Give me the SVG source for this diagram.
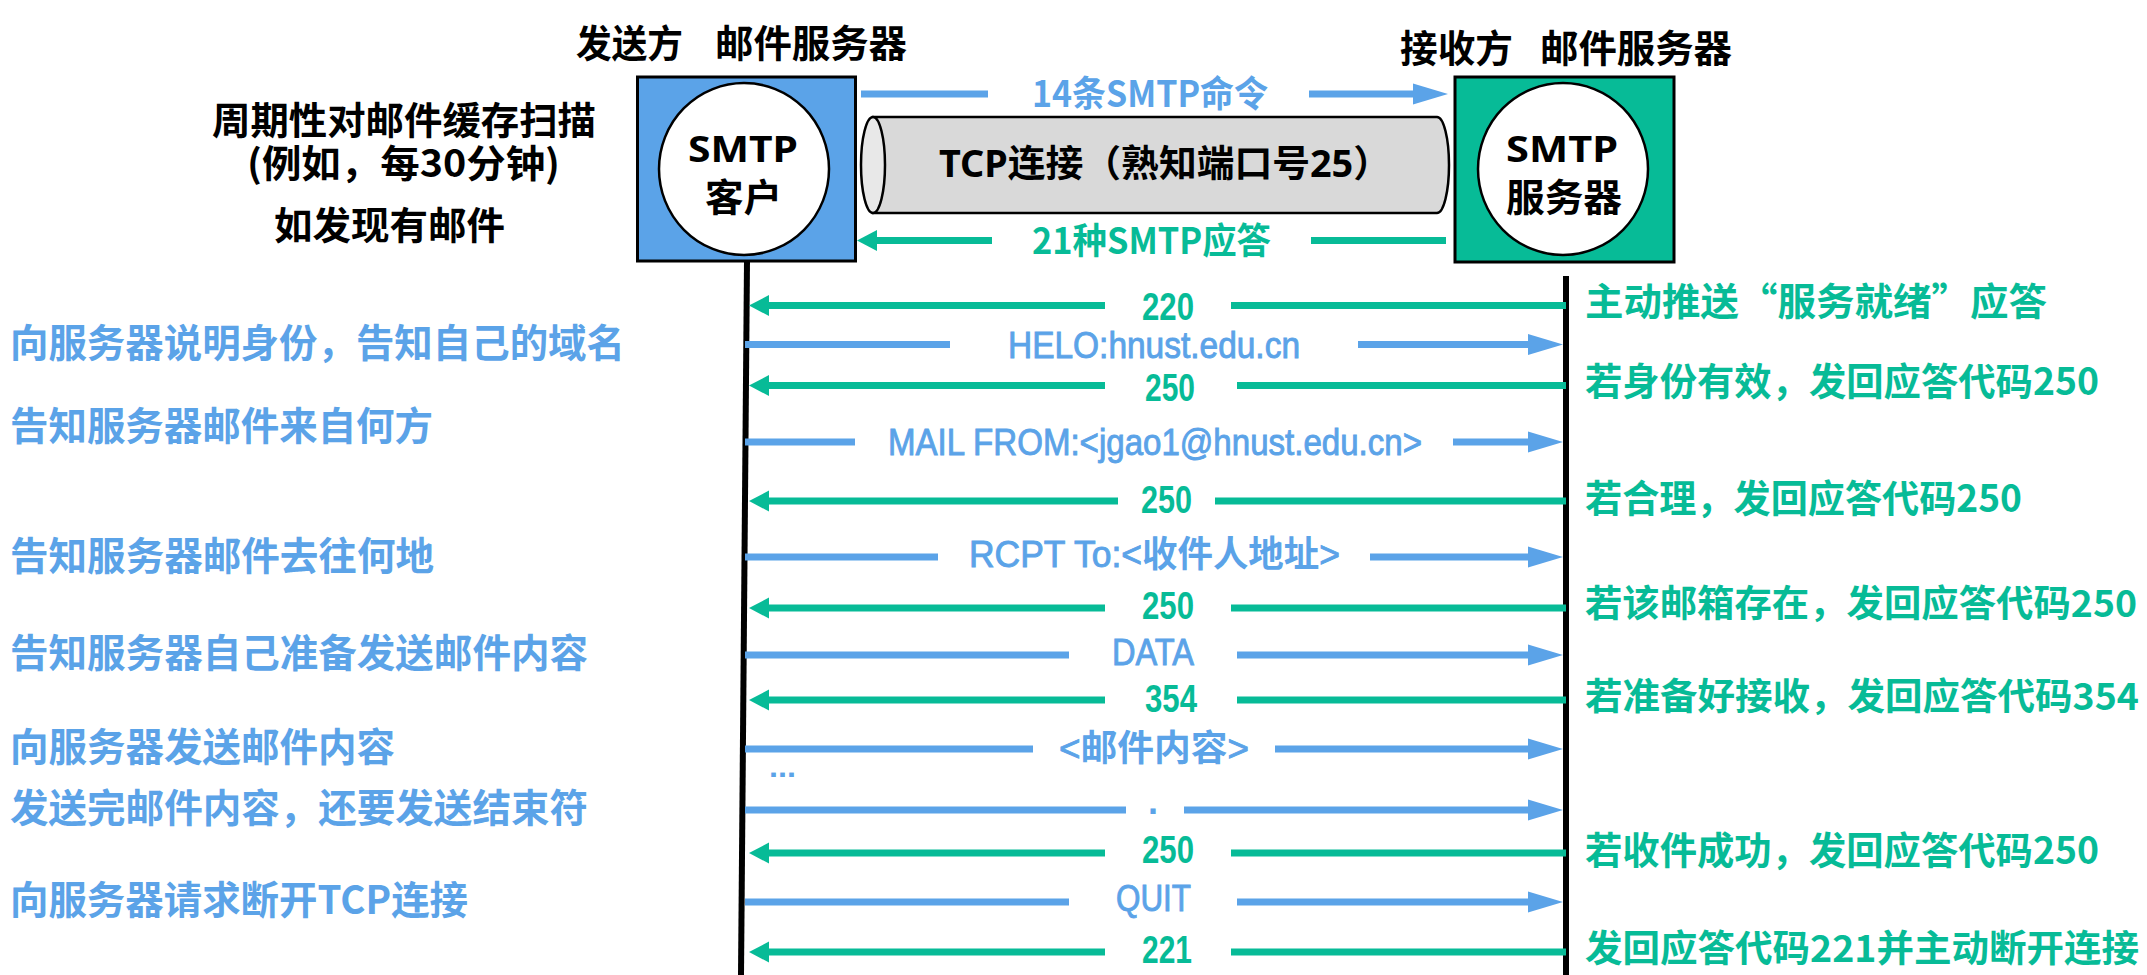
<svg xmlns="http://www.w3.org/2000/svg" width="2147" height="975" viewBox="0 0 2147 975">
<style>
.cjk{font-family:"Noto Sans CJK SC","Liberation Sans",sans-serif;font-weight:700}
.lat{font-family:"Liberation Sans","Noto Sans CJK SC",sans-serif}
.box{font-family:"Noto Sans","Noto Sans CJK SC",sans-serif;font-weight:700}
.bl{fill:#5BA3E8}
.gr{fill:#07BB97}
.bk{fill:#000}
.blt{fill:#5BA3E8;stroke:#5BA3E8;stroke-width:0.9}
.lb{stroke:#5BA3E8;stroke-width:7;fill:none}
.lg{stroke:#07BB97;stroke-width:7;fill:none}
.life{stroke:#000;stroke-width:6}
</style>
<defs>
<marker id="hb" markerUnits="userSpaceOnUse" markerWidth="36" markerHeight="22" viewBox="0 0 36 22" refX="1" refY="11" orient="auto"><path d="M0,0.5 L35,11 L0,21.5 z" fill="#5BA3E8"/></marker>
<marker id="hg" markerUnits="userSpaceOnUse" markerWidth="21" markerHeight="22" viewBox="0 0 21 22" refX="1" refY="11" orient="auto"><path d="M0,0.5 L20,11 L0,21.5 z" fill="#07BB97"/></marker>
</defs>
<rect width="2147" height="975" fill="#fff"/>

<g id="client">
<text class="cjk bk" x="576" y="57" font-size="38" textLength="107" lengthAdjust="spacingAndGlyphs">发送方</text>
<text class="cjk bk" x="715" y="57" font-size="38" textLength="192" lengthAdjust="spacingAndGlyphs">邮件服务器</text>
<rect x="637.5" y="77" width="218" height="184" fill="#5BA3E8" stroke="#000" stroke-width="3"/>
<ellipse cx="744" cy="169" rx="85" ry="86" fill="#fff" stroke="#000" stroke-width="2.5"/>
<text class="box bk" x="743" y="162" font-size="36" text-anchor="middle" textLength="110" lengthAdjust="spacingAndGlyphs">SMTP</text>
<text class="cjk bk" x="743.5" y="211" font-size="38" text-anchor="middle" textLength="77" lengthAdjust="spacingAndGlyphs">客户</text>
</g>

<g id="server">
<text class="cjk bk" x="1400" y="62" font-size="38" textLength="113" lengthAdjust="spacingAndGlyphs">接收方</text>
<text class="cjk bk" x="1540" y="62" font-size="38" textLength="192" lengthAdjust="spacingAndGlyphs">邮件服务器</text>
<rect x="1455" y="77" width="219" height="185" fill="#07BB97" stroke="#000" stroke-width="3"/>
<ellipse cx="1563" cy="169" rx="85" ry="86" fill="#fff" stroke="#000" stroke-width="2.5"/>
<text class="box bk" x="1562" y="162" font-size="36" text-anchor="middle" textLength="112" lengthAdjust="spacingAndGlyphs">SMTP</text>
<text class="cjk bk" x="1564" y="211" font-size="38" text-anchor="middle" textLength="116" lengthAdjust="spacingAndGlyphs">服务器</text>
</g>

<g id="tcp">
<path d="M873,117 L1437,117 A12,48 0 0 1 1437,213 L873,213 Z" fill="#D9D9D9" stroke="#000" stroke-width="2.5"/>
<ellipse cx="873" cy="165" rx="12" ry="48" fill="#E8E8E8" stroke="#000" stroke-width="2.5"/>
<text class="box bk" x="939" y="177" font-size="37" textLength="452" lengthAdjust="spacingAndGlyphs">TCP连接（熟知端口号25）</text>
</g>

<g id="scan-note">
<text class="cjk bk" x="212" y="134" font-size="38" textLength="384" lengthAdjust="spacingAndGlyphs">周期性对邮件缓存扫描</text>
<text class="cjk bk" x="247" y="177" font-size="38" textLength="313" lengthAdjust="spacingAndGlyphs">(例如，每30分钟)</text>
<text class="cjk bk" x="274" y="239" font-size="38" textLength="231" lengthAdjust="spacingAndGlyphs">如发现有邮件</text>
</g>

<g id="left-notes" class="cjk bl" font-size="39">
<text x="10" y="357" textLength="615" lengthAdjust="spacingAndGlyphs">向服务器说明身份，告知自己的域名</text>
<text x="10" y="440" textLength="423" lengthAdjust="spacingAndGlyphs">告知服务器邮件来自何方</text>
<text x="10" y="570" textLength="424" lengthAdjust="spacingAndGlyphs">告知服务器邮件去往何地</text>
<text x="10" y="667" textLength="578" lengthAdjust="spacingAndGlyphs">告知服务器自己准备发送邮件内容</text>
<text x="10" y="761" textLength="385" lengthAdjust="spacingAndGlyphs">向服务器发送邮件内容</text>
<text x="10" y="822" textLength="578" lengthAdjust="spacingAndGlyphs">发送完邮件内容，还要发送结束符</text>
<text x="10" y="914" textLength="458" lengthAdjust="spacingAndGlyphs">向服务器请求断开TCP连接</text>
</g>

<g id="right-notes" class="cjk gr" font-size="38">
<text x="1585" y="315" textLength="462" lengthAdjust="spacingAndGlyphs">主动推送“服务就绪”应答</text>
<text x="1585" y="395" textLength="514" lengthAdjust="spacingAndGlyphs">若身份有效，发回应答代码250</text>
<text x="1585" y="512" textLength="437" lengthAdjust="spacingAndGlyphs">若合理，发回应答代码250</text>
<text x="1585" y="617" font-size="37" textLength="552" lengthAdjust="spacingAndGlyphs">若该邮箱存在，发回应答代码250</text>
<text x="1585" y="710" font-size="37" textLength="554" lengthAdjust="spacingAndGlyphs">若准备好接收，发回应答代码354</text>
<text x="1585" y="864" textLength="514" lengthAdjust="spacingAndGlyphs">若收件成功，发回应答代码250</text>
<text x="1585" y="962" font-size="37" textLength="554" lengthAdjust="spacingAndGlyphs">发回应答代码221并主动断开连接</text>
</g>

<g id="connectors">
<!-- lifelines -->
<line class="life" x1="747" y1="261" x2="741" y2="975"/>
<line class="life" x1="1566" y1="276" x2="1566" y2="975"/>
<!-- top command / reply arrows -->
<line class="lb" x1="861" y1="94" x2="988" y2="94"/>
<line class="lb" x1="1309" y1="94" x2="1414" y2="94" marker-end="url(#hb)"/>
<text class="cjk bl" x="1032" y="107" font-size="36" textLength="236" lengthAdjust="spacingAndGlyphs">14条SMTP命令</text>
<line class="lg" x1="1446" y1="240.5" x2="1311" y2="240.5"/>
<line class="lg" x1="992" y1="240.5" x2="876" y2="240.5" marker-end="url(#hg)"/>
<text class="cjk gr" x="1032" y="254" font-size="36" textLength="239" lengthAdjust="spacingAndGlyphs">21种SMTP应答</text>

<!-- 220 -->
<line class="lg" x1="1566" y1="305.5" x2="1231" y2="305.5"/>
<line class="lg" x1="1105" y1="305.5" x2="768" y2="305.5" marker-end="url(#hg)"/>
<text class="lat gr" x="1142" y="320" font-size="38" font-weight="700" textLength="52" lengthAdjust="spacingAndGlyphs">220</text>
<!-- HELO -->
<line class="lb" x1="745" y1="344.5" x2="950" y2="344.5"/>
<line class="lb" x1="1358" y1="344.5" x2="1529" y2="344.5" marker-end="url(#hb)"/>
<text class="lat blt" x="1008" y="358" font-size="36" textLength="292" lengthAdjust="spacingAndGlyphs">HELO:hnust.edu.cn</text>
<!-- 250 -->
<line class="lg" x1="1566" y1="385.5" x2="1237" y2="385.5"/>
<line class="lg" x1="1105" y1="385.5" x2="768" y2="385.5" marker-end="url(#hg)"/>
<text class="lat gr" x="1145" y="401" font-size="38" font-weight="700" textLength="50" lengthAdjust="spacingAndGlyphs">250</text>
<!-- MAIL FROM -->
<line class="lb" x1="745" y1="442" x2="855" y2="442"/>
<line class="lb" x1="1453" y1="442" x2="1529" y2="442" marker-end="url(#hb)"/>
<text class="lat blt" x="888" y="455" font-size="36" textLength="534" lengthAdjust="spacingAndGlyphs">MAIL FROM:&lt;jgao1@hnust.edu.cn&gt;</text>
<!-- 250 -->
<line class="lg" x1="1566" y1="501" x2="1215" y2="501"/>
<line class="lg" x1="1118" y1="501" x2="768" y2="501" marker-end="url(#hg)"/>
<text class="lat gr" x="1141" y="513" font-size="38" font-weight="700" textLength="51" lengthAdjust="spacingAndGlyphs">250</text>
<!-- RCPT -->
<line class="lb" x1="745" y1="557" x2="938" y2="557"/>
<line class="lb" x1="1370" y1="557" x2="1529" y2="557" marker-end="url(#hb)"/>
<text class="lat blt" x="969" y="567" font-size="36" textLength="371" lengthAdjust="spacingAndGlyphs">RCPT To:&lt;<tspan class="cjk" stroke-width="0">收件人地址</tspan>&gt;</text>
<!-- 250 -->
<line class="lg" x1="1566" y1="608" x2="1231" y2="608"/>
<line class="lg" x1="1105" y1="608" x2="768" y2="608" marker-end="url(#hg)"/>
<text class="lat gr" x="1142" y="619" font-size="38" font-weight="700" textLength="52" lengthAdjust="spacingAndGlyphs">250</text>
<!-- DATA -->
<line class="lb" x1="745" y1="655" x2="1069" y2="655"/>
<line class="lb" x1="1237" y1="655" x2="1529" y2="655" marker-end="url(#hb)"/>
<text class="lat blt" x="1112" y="665" font-size="36" textLength="82" lengthAdjust="spacingAndGlyphs">DATA</text>
<!-- 354 -->
<line class="lg" x1="1566" y1="700" x2="1237" y2="700"/>
<line class="lg" x1="1105" y1="700" x2="768" y2="700" marker-end="url(#hg)"/>
<text class="lat gr" x="1145" y="712" font-size="38" font-weight="700" textLength="52" lengthAdjust="spacingAndGlyphs">354</text>
<!-- mail content -->
<line class="lb" x1="745" y1="749" x2="1033" y2="749"/>
<line class="lb" x1="1275" y1="749" x2="1529" y2="749" marker-end="url(#hb)"/>
<text class="lat blt" x="1059" y="761" font-size="36" textLength="190" lengthAdjust="spacingAndGlyphs">&lt;<tspan class="cjk" stroke-width="0">邮件内容</tspan>&gt;</text>
<text class="lat bl" x="769" y="777" font-size="30" font-weight="700" textLength="27" lengthAdjust="spacingAndGlyphs">...</text>
<!-- end marker . -->
<line class="lb" x1="745" y1="810" x2="1126" y2="810"/>
<line class="lb" x1="1184" y1="810" x2="1529" y2="810" marker-end="url(#hb)"/>
<text class="lat bl" x="1153" y="814" font-size="36" font-weight="700" text-anchor="middle">.</text>
<!-- 250 -->
<line class="lg" x1="1566" y1="853" x2="1231" y2="853"/>
<line class="lg" x1="1105" y1="853" x2="768" y2="853" marker-end="url(#hg)"/>
<text class="lat gr" x="1142" y="863" font-size="38" font-weight="700" textLength="52" lengthAdjust="spacingAndGlyphs">250</text>
<!-- QUIT -->
<line class="lb" x1="745" y1="902" x2="1069" y2="902"/>
<line class="lb" x1="1237" y1="902" x2="1529" y2="902" marker-end="url(#hb)"/>
<text class="lat blt" x="1116" y="911" font-size="36" textLength="75" lengthAdjust="spacingAndGlyphs">QUIT</text>
<!-- 221 -->
<line class="lg" x1="1566" y1="952" x2="1231" y2="952"/>
<line class="lg" x1="1105" y1="952" x2="768" y2="952" marker-end="url(#hg)"/>
<text class="lat gr" x="1142" y="963" font-size="38" font-weight="700" textLength="50" lengthAdjust="spacingAndGlyphs">221</text>
</g>
</svg>
